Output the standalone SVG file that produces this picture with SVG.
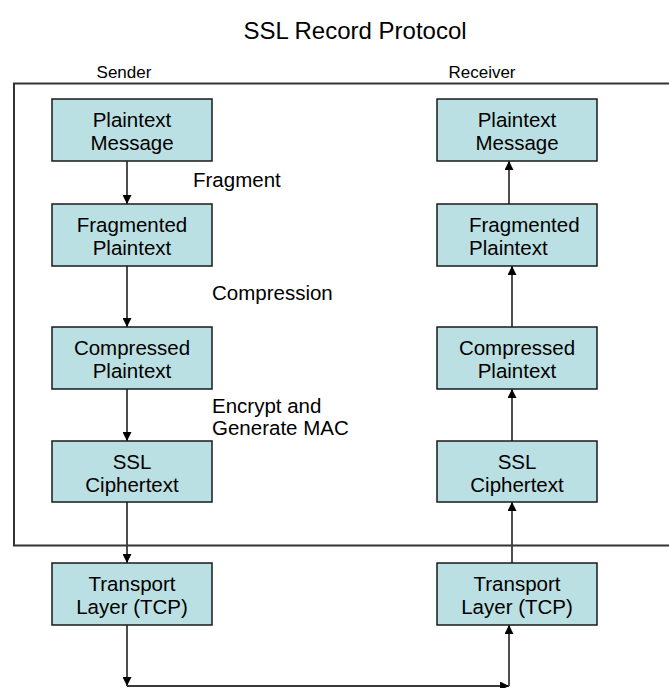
<svg xmlns="http://www.w3.org/2000/svg" width="669" height="688" viewBox="0 0 669 688">
  <style>
    text { font-family: "Liberation Sans", Arial, sans-serif; fill: #000; }
    .title { font-size: 24px; }
    .side { font-size: 17px; }
    .lbl { font-size: 20.5px; }
    .box rect { fill: #bbe0e3; stroke: #1a1a1a; stroke-width: 1.5; }
    .box text { font-size: 20.5px; text-anchor: middle; }
    .box text.left { text-anchor: start; }
    .conn line, .conn path { stroke: #3a3a3a; stroke-width: 1.8; fill: none; }
  </style>
  <defs>
    <marker id="arrow" viewBox="0 0 10 10" refX="10" refY="5" markerWidth="9" markerHeight="9" markerUnits="userSpaceOnUse" orient="auto">
      <path d="M0,0 L10,5 L0,10 z" fill="#000"/>
    </marker>
  </defs>

  <rect width="669" height="688" fill="#fff"/>

  <!-- headings -->
  <text class="title" x="355" y="39" text-anchor="middle">SSL Record Protocol</text>
  <text class="side" x="124" y="78" text-anchor="middle">Sender</text>
  <text class="side" x="482" y="78" text-anchor="middle">Receiver</text>

  <!-- record-layer frame, open on the right -->
  <path d="M680,83.5 H14 V545.5 H680" fill="none" stroke="#333" stroke-width="2"/>

  <!-- connectors -->
  <g class="conn" id="connectors">
    <line x1="127" y1="161" x2="127" y2="204" marker-end="url(#arrow)"/>
    <line x1="127" y1="266" x2="127" y2="327" marker-end="url(#arrow)"/>
    <line x1="127" y1="389" x2="127" y2="441" marker-end="url(#arrow)"/>
    <line x1="127" y1="502" x2="127" y2="563" marker-end="url(#arrow)"/>
    <line x1="127" y1="625" x2="127" y2="686" marker-end="url(#arrow)"/>
    <line x1="127" y1="686" x2="509" y2="686" marker-end="url(#arrow)"/>
    <line x1="509" y1="686" x2="509" y2="625" marker-end="url(#arrow)"/>
    <line x1="512" y1="563" x2="512" y2="502" marker-end="url(#arrow)"/>
    <line x1="512" y1="441" x2="512" y2="389" marker-end="url(#arrow)"/>
    <line x1="512" y1="327" x2="512" y2="266" marker-end="url(#arrow)"/>
    <line x1="509" y1="204" x2="509" y2="161" marker-end="url(#arrow)"/>
  </g>

  <!-- step labels -->
  <text class="lbl" x="193" y="187">Fragment</text>
  <text class="lbl" x="212" y="300">Compression</text>
  <text class="lbl" x="212" y="413">Encrypt and</text>
  <text class="lbl" x="212" y="435">Generate MAC</text>

  <!-- sender column -->
  <g class="box" id="s-plain">
    <rect x="52" y="99" width="160" height="62"/>
    <text x="132" y="127">Plaintext</text>
    <text x="132" y="150">Message</text>
  </g>
  <g class="box" id="s-frag">
    <rect x="52" y="204" width="160" height="62"/>
    <text x="132" y="232">Fragmented</text>
    <text x="132" y="255">Plaintext</text>
  </g>
  <g class="box" id="s-comp">
    <rect x="52" y="327" width="160" height="62"/>
    <text x="132" y="355">Compressed</text>
    <text x="132" y="378">Plaintext</text>
  </g>
  <g class="box" id="s-cipher">
    <rect x="52" y="441" width="160" height="61"/>
    <text x="132" y="469">SSL</text>
    <text x="132" y="492">Ciphertext</text>
  </g>
  <g class="box" id="s-tcp">
    <rect x="52" y="563" width="160" height="62"/>
    <text x="132" y="591">Transport</text>
    <text x="132" y="614">Layer (TCP)</text>
  </g>

  <!-- receiver column -->
  <g class="box" id="r-plain">
    <rect x="437" y="99" width="160" height="62"/>
    <text x="517" y="127">Plaintext</text>
    <text x="517" y="150">Message</text>
  </g>
  <g class="box" id="r-frag">
    <rect x="437" y="204" width="160" height="62"/>
    <text class="left" x="469" y="232">Fragmented</text>
    <text class="left" x="469" y="255">Plaintext</text>
  </g>
  <g class="box" id="r-comp">
    <rect x="437" y="327" width="160" height="62"/>
    <text x="517" y="355">Compressed</text>
    <text x="517" y="378">Plaintext</text>
  </g>
  <g class="box" id="r-cipher">
    <rect x="437" y="441" width="160" height="61"/>
    <text x="517" y="469">SSL</text>
    <text x="517" y="492">Ciphertext</text>
  </g>
  <g class="box" id="r-tcp">
    <rect x="437" y="563" width="160" height="62"/>
    <text x="517" y="591">Transport</text>
    <text x="517" y="614">Layer (TCP)</text>
  </g>
</svg>
